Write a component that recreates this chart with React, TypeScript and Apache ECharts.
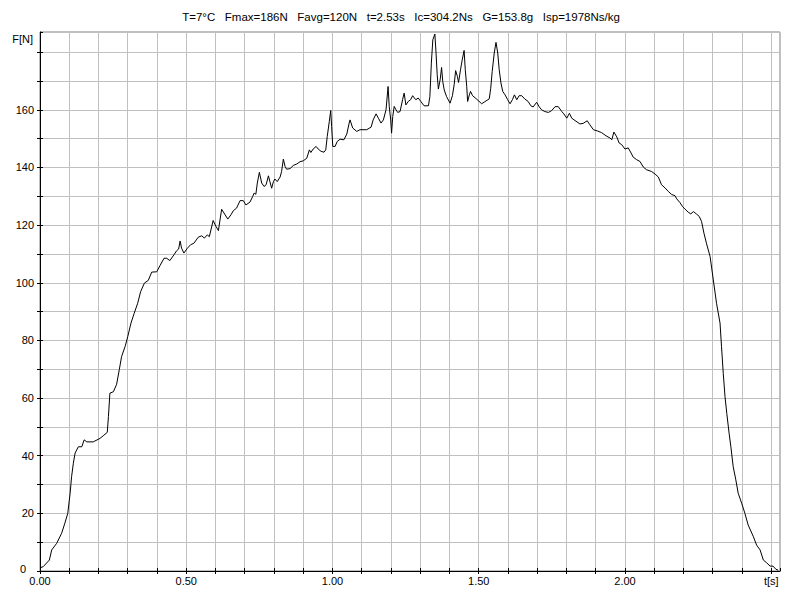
import React, { useEffect, useRef } from "react";
import * as echarts from "echarts";

const titleText = "T=7°C   Fmax=186N   Favg=120N   t=2.53s   Ic=304.2Ns   G=153.8g   Isp=1978Ns/kg";
const xName = "t[s]";
const yName = "F[N]";

const times = [
  0, 0.011, 0.032, 0.04, 0.057, 0.074, 0.085, 0.095, 0.103, 0.108, 0.114, 0.12, 0.131, 0.143, 0.151, 0.16,
  0.182, 0.205, 0.216, 0.23, 0.234, 0.239, 0.251, 0.262, 0.271, 0.279, 0.291, 0.3, 0.311, 0.322, 0.334, 0.344,
  0.357, 0.37, 0.382, 0.399, 0.41, 0.424, 0.433, 0.444, 0.458, 0.467, 0.474, 0.479, 0.484, 0.492, 0.504, 0.515,
  0.526, 0.541, 0.553, 0.562, 0.572, 0.579, 0.592, 0.602, 0.61, 0.621, 0.629, 0.642, 0.653, 0.661, 0.672, 0.684,
  0.695, 0.704, 0.718, 0.727, 0.732, 0.738, 0.743, 0.75, 0.758, 0.766, 0.773, 0.781, 0.786, 0.792, 0.798, 0.803,
  0.811, 0.821, 0.826, 0.832, 0.838, 0.843, 0.855, 0.866, 0.878, 0.889, 0.9, 0.912, 0.921, 0.926, 0.934, 0.944,
  0.951, 0.961, 0.971, 0.977, 0.982, 0.989, 0.994, 0.997, 1.001, 1.009, 1.016, 1.026, 1.039, 1.049, 1.057, 1.06,
  1.069, 1.083, 1.094, 1.117, 1.132, 1.139, 1.149, 1.157, 1.166, 1.174, 1.183, 1.19, 1.194, 1.199, 1.202, 1.206,
  1.211, 1.217, 1.223, 1.231, 1.24, 1.245, 1.251, 1.259, 1.267, 1.274, 1.28, 1.285, 1.293, 1.302, 1.313, 1.328,
  1.333, 1.338, 1.343, 1.35, 1.354, 1.358, 1.362, 1.368, 1.373, 1.377, 1.382, 1.39, 1.402, 1.41, 1.416, 1.421,
  1.427, 1.431, 1.438, 1.444, 1.45, 1.454, 1.459, 1.462, 1.468, 1.472, 1.479, 1.493, 1.51, 1.525, 1.536, 1.541,
  1.546, 1.553, 1.559, 1.565, 1.57, 1.576, 1.582, 1.59, 1.599, 1.607, 1.615, 1.622, 1.63, 1.638, 1.647, 1.658,
  1.669, 1.678, 1.686, 1.698, 1.707, 1.715, 1.726, 1.738, 1.749, 1.761, 1.772, 1.784, 1.791, 1.801, 1.81, 1.818,
  1.829, 1.846, 1.857, 1.871, 1.88, 1.892, 1.905, 1.92, 1.935, 1.949, 1.955, 1.962, 1.972, 1.98, 1.989, 2.0,
  2.011, 2.021, 2.028, 2.04, 2.051, 2.063, 2.074, 2.091, 2.103, 2.114, 2.125, 2.137, 2.148, 2.16, 2.171, 2.177,
  2.188, 2.197, 2.205, 2.216, 2.225, 2.234, 2.245, 2.254, 2.262, 2.27, 2.279, 2.291, 2.302, 2.313, 2.325, 2.33,
  2.336, 2.342, 2.348, 2.356, 2.362, 2.37, 2.379, 2.387, 2.399, 2.41, 2.421, 2.439, 2.45, 2.462, 2.473, 2.484,
  2.496, 2.506, 2.516, 2.524,
];

const forces = [
  1.1, 1.5, 3.8, 7.3, 9.6, 13.1, 16.6, 20, 27, 32.7, 37.4, 40.9, 43.1, 43.1, 45.5, 44.8,
  44.8, 46, 46.9, 48.1, 53.6, 61.7, 62.2, 64.8, 69.8, 74.4, 77.9, 81.3, 86, 89.4, 92.9, 96.9,
  99.9, 100.8, 103.7, 103.8, 105.9, 108.5, 108.5, 107.7, 109.7, 111.1, 111.7, 114.5, 112, 110.3, 112, 113.2,
  113.7, 115.8, 116.3, 115.5, 116.6, 116, 121.6, 119.5, 118.1, 125.5, 124.2, 122.1, 123.6, 125, 125.9, 128.5,
  128.5, 127, 128, 129.9, 131.1, 130.7, 134.6, 138.3, 134.6, 133.4, 134, 137.1, 135.1, 132.8, 135.1, 136,
  135.1, 136.7, 138.6, 142.9, 140.3, 139.4, 139.6, 140.7, 141.2, 142, 142.3, 143.2, 146.1, 145.2, 146.4, 147.3,
  146.4, 145.6, 145.3, 146.1, 150.7, 155.9, 159.8, 154.2, 147.3, 147.3, 149, 149.8, 149.6, 151.6, 155.4, 156.5,
  153.7, 152.5, 153.1, 153.1, 154, 156.5, 158.6, 157.1, 155.4, 156.5, 160, 168.1, 161.2, 156.5, 151.9, 157.7,
  161.2, 160, 159.1, 159.4, 163.7, 165.8, 161.7, 162.9, 163.5, 164.9, 164.1, 163.5, 164.1, 162.9, 161.4, 161.4,
  164.6, 176.2, 184.3, 186.3, 179.7, 172.2, 167.2, 170.4, 174.7, 169.8, 166.9, 164.6, 162.3, 164.9, 168.7, 173.6,
  171.6, 169.5, 174.1, 177.6, 180.6, 173.9, 168.1, 162.9, 165.2, 166.4, 164.9, 163.7, 162.1, 163.1, 163.8, 167.5,
  173.3, 179.7, 183.4, 179.7, 173.9, 169.3, 166.4, 165.2, 163.5, 162.1, 163.5, 165.2, 163.5, 164.9, 164.9, 163.7,
  162.9, 161.4, 161, 162.6, 161, 160, 159.4, 159.1, 159.7, 161.1, 161.1, 159.4, 158.6, 157.1, 158.8, 157.1,
  156.3, 155.1, 155.3, 156.2, 154.8, 153.1, 152.7, 152.1, 151, 150.2, 149.6, 152.3, 150.6, 148.5, 147.9, 146.4,
  146.8, 145, 143.6, 142.7, 142.1, 140.1, 139.2, 138.6, 137.7, 136.7, 134, 132.9, 131.7, 130.6, 130.2, 129.1,
  127.8, 126.4, 125.6, 124.5, 123.9, 124.7, 123.8, 123, 121.2, 117.2, 113.5, 109.1, 101, 92.9, 86, 77.9,
  68.6, 60.5, 54.7, 47.8, 43.1, 36.2, 31.6, 27, 23.5, 20, 16, 11.9, 9, 7.3, 3.8, 2.9,
  1.7, 1.7, 0.6, 0.3,
];

const X_MAX = 2.53;
const Y_MAX = 187;
const FONT = "'Liberation Sans', Arial, sans-serif";

export default function App() {
  const ref = useRef<HTMLDivElement>(null);

  useEffect(() => {
    if (!ref.current) return;
    const chart = echarts.init(ref.current, null, { renderer: "svg" });
    const data = times.map((t, i) => [t, forces[i]]);

    const xFmt = (v: number) => {
      if (Math.abs(v * 2 - Math.round(v * 2)) > 1e-6) return "";
      if (Math.abs(v - 2.5) < 1e-6) return xName;
      return v.toFixed(2);
    };
    const yFmt = (v: number) => {
      const r = Math.round(v);
      if (Math.abs(v - r) > 1e-6) return "";
      if (r % 20 !== 0 || r > 160) return "";
      if (r === 0) return "{z|0}";
      return String(r);
    };

    chart.setOption({
      animation: false,
      backgroundColor: "#ffffff",
      textStyle: { fontFamily: FONT },
      grid: {
        left: 40,
        right: 20,
        top: 32,
        bottom: 29,
        show: true,
        borderColor: "#808080",
        borderWidth: 1,
        backgroundColor: "transparent",
      },
      graphic: [
        {
          type: "text",
          x: 401,
          y: 11,
          style: {
            text: titleText,
            font: `11.5px ${FONT}`,
            fill: "#000",
            align: "center",
            textAlign: "center",
          },
        },
        {
          type: "text",
          x: 33,
          y: 33,
          style: { text: yName, font: `11px ${FONT}`, fill: "#000", align: "right", textAlign: "right" },
        },
      ],
      xAxis: [
        {
          type: "value",
          min: 0,
          max: X_MAX,
          interval: 0.1,
          position: "bottom",
          axisLine: { show: true, onZero: false, lineStyle: { color: "#000", width: 1 } },
          axisTick: { show: true, length: 3, lineStyle: { color: "#000" } },
          axisLabel: {
            formatter: xFmt,
            color: "#000",
            fontSize: 11,
            fontFamily: FONT,
            margin: 4,
            showMaxLabel: false,
          },
          splitLine: { show: true, lineStyle: { color: "#c0c0c0", width: 1 } },
        },
        {
          type: "value",
          min: 0,
          max: X_MAX,
          interval: 0.1,
          position: "bottom",
          axisLine: { show: false },
          axisTick: { show: true, inside: true, length: 3, lineStyle: { color: "#000" } },
          axisLabel: { show: false },
          splitLine: { show: false },
        },
      ],
      yAxis: [
        {
          type: "value",
          min: 0,
          max: Y_MAX,
          interval: 10,
          position: "left",
          axisLine: { show: true, onZero: false, lineStyle: { color: "#000", width: 1 } },
          axisTick: { show: true, length: 3, lineStyle: { color: "#000" } },
          axisLabel: {
            formatter: yFmt,
            color: "#000",
            fontSize: 11,
            fontFamily: FONT,
            margin: 6,
            showMaxLabel: false,
            rich: {
              z: { fontSize: 11, fontFamily: FONT, color: "#000", padding: [0, 8, 4, 0] },
            },
          },
          splitLine: { show: true, lineStyle: { color: "#c0c0c0", width: 1 } },
        },
        {
          type: "value",
          min: 0,
          max: Y_MAX,
          interval: 10,
          position: "left",
          axisLine: { show: false },
          axisTick: { show: true, inside: true, length: 3, lineStyle: { color: "#000" } },
          axisLabel: { show: false },
          splitLine: { show: false },
        },
      ],
      series: [
        {
          type: "line",
          data,
          xAxisIndex: 0,
          yAxisIndex: 0,
          showSymbol: false,
          symbol: "none",
          lineStyle: { color: "#000", width: 1 },
          z: 5,
        },
      ],
    });

    return () => chart.dispose();
  }, []);

  return <div ref={ref} style={{ width: 800, height: 600, position: "absolute", left: 0, top: 0 }} />;
}
